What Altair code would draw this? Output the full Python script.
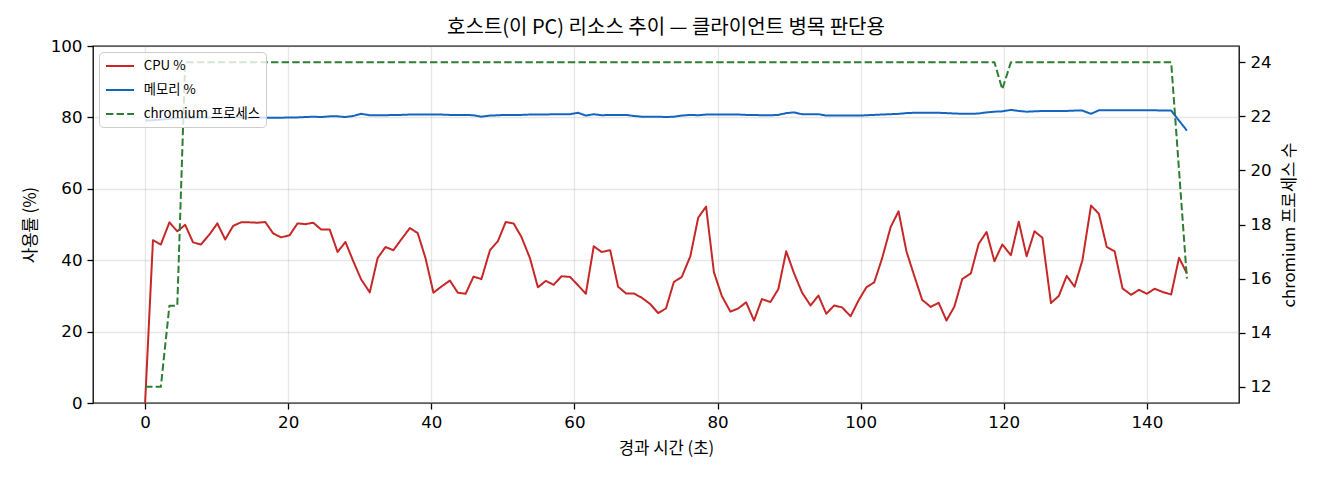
import pandas as pd
import altair as alt

# sample times (s)
time_s = [
    0.0, 1.1, 2.2, 3.4, 4.5, 5.6, 6.7, 7.8, 9.0, 10.1,
    11.2, 12.3, 13.4, 14.6, 15.7, 16.8, 17.9, 19.0, 20.2, 21.3,
    22.4, 23.5, 24.6, 25.8, 26.9, 28.0, 29.1, 30.2, 31.4, 32.5,
    33.6, 34.7, 35.8, 37.0, 38.1, 39.2, 40.3, 41.4, 42.6, 43.7,
    44.8, 45.9, 47.0, 48.2, 49.3, 50.4, 51.5, 52.6, 53.8, 54.9,
    56.0, 57.1, 58.2, 59.4, 60.5, 61.6, 62.7, 63.8, 65.0, 66.1,
    67.2, 68.3, 69.4, 70.6, 71.7, 72.8, 73.9, 75.0, 76.2, 77.3,
    78.4, 79.5, 80.6, 81.8, 82.9, 84.0, 85.1, 86.2, 87.4, 88.5,
    89.6, 90.7, 91.8, 93.0, 94.1, 95.2, 96.3, 97.4, 98.6, 99.7,
    100.8, 101.9, 103.0, 104.2, 105.3, 106.4, 107.5, 108.6, 109.8, 110.9,
    112.0, 113.1, 114.2, 115.4, 116.5, 117.6, 118.7, 119.8, 121.0, 122.1,
    123.2, 124.3, 125.4, 126.6, 127.7, 128.8, 129.9, 131.0, 132.2, 133.3,
    134.4, 135.5, 136.6, 137.8, 138.9, 140.0, 141.1, 142.2, 143.4, 144.5,
    145.6,
]

cpu_pct = [
    0.0, 45.6, 44.4, 50.6, 48.1, 49.9, 45.0, 44.4, 47.2, 50.3,
    45.8, 49.6, 50.6, 50.6, 50.5, 50.7, 47.5, 46.4, 47.0, 50.3,
    50.1, 50.5, 48.6, 48.6, 42.3, 45.1, 39.7, 34.6, 31.0, 40.6,
    43.7, 42.8, 45.8, 49.0, 47.6, 40.5, 30.9, 32.6, 34.3, 30.9,
    30.6, 35.4, 34.7, 42.8, 45.3, 50.7, 50.3, 46.5, 40.5, 32.4,
    34.2, 33.1, 35.5, 35.3, 33.0, 30.6, 43.9, 42.3, 42.8, 32.6,
    30.7, 30.7, 29.5, 27.7, 25.2, 26.5, 33.9, 35.3, 41.1, 51.9,
    55.0, 36.6, 30.0, 25.6, 26.5, 28.2, 23.1, 29.1, 28.3, 31.9,
    42.5, 36.3, 31.0, 27.3, 30.1, 25.0, 27.3, 26.8, 24.3, 28.7,
    32.4, 33.8, 40.5, 49.3, 53.7, 42.5, 35.6, 28.9, 26.9, 28.1,
    23.1, 27.0, 34.7, 36.3, 44.6, 47.9, 39.7, 44.4, 41.4, 50.8,
    41.1, 48.1, 46.3, 28.0, 30.0, 35.6, 32.6, 40.0, 55.3, 53.0,
    43.7, 42.5, 32.1, 30.3, 31.7, 30.6, 32.0, 31.1, 30.4, 40.7,
    36.3,
]

mem_pct = [
    79.1, 79.2, 79.4, 79.6, 79.8, 79.9, 79.9, 80.0, 79.9, 80.0,
    80.0, 80.1, 80.0, 79.9, 80.0, 79.9, 79.9, 79.9, 80.0, 80.0,
    80.1, 80.2, 80.1, 80.3, 80.3, 80.1, 80.4, 81.0, 80.6, 80.6,
    80.6, 80.7, 80.7, 80.8, 80.8, 80.8, 80.8, 80.8, 80.7, 80.7,
    80.7, 80.6, 80.2, 80.5, 80.6, 80.7, 80.7, 80.7, 80.8, 80.8,
    80.8, 80.9, 80.9, 80.9, 81.3, 80.5, 80.9, 80.6, 80.7, 80.7,
    80.7, 80.4, 80.2, 80.2, 80.2, 80.1, 80.2, 80.5, 80.7, 80.6,
    80.8, 80.8, 80.8, 80.8, 80.8, 80.7, 80.7, 80.6, 80.6, 80.7,
    81.2, 81.4, 80.9, 80.9, 80.9, 80.5, 80.5, 80.5, 80.5, 80.5,
    80.6, 80.7, 80.8, 80.9, 81.0, 81.2, 81.3, 81.3, 81.3, 81.3,
    81.2, 81.1, 81.0, 81.0, 81.1, 81.4, 81.6, 81.7, 82.1, 81.8,
    81.6, 81.7, 81.8, 81.8, 81.8, 81.8, 81.9, 81.9, 81.0, 82.0,
    82.0, 82.0, 82.0, 82.0, 82.0, 82.0, 82.0, 81.9, 81.9, 79.1,
    76.3,
]

chromium_n = [
    12, 12, 12, 15, 15, 24, 24, 24, 24, 24,
    24, 24, 24, 24, 24, 24, 24, 24, 24, 24,
    24, 24, 24, 24, 24, 24, 24, 24, 24, 24,
    24, 24, 24, 24, 24, 24, 24, 24, 24, 24,
    24, 24, 24, 24, 24, 24, 24, 24, 24, 24,
    24, 24, 24, 24, 24, 24, 24, 24, 24, 24,
    24, 24, 24, 24, 24, 24, 24, 24, 24, 24,
    24, 24, 24, 24, 24, 24, 24, 24, 24, 24,
    24, 24, 24, 24, 24, 24, 24, 24, 24, 24,
    24, 24, 24, 24, 24, 24, 24, 24, 24, 24,
    24, 24, 24, 24, 24, 24, 24, 23, 24, 24,
    24, 24, 24, 24, 24, 24, 24, 24, 24, 24,
    24, 24, 24, 24, 24, 24, 24, 24, 24, 20,
    16,
]

series_names = ["CPU %", "메모리 %", "chromium 프로세스"]
series_colors = ["#c62828", "#1565c0", "#2e7d32"]
series_dash = [[1, 0], [1, 0], [7.4, 3.2]]

x_ticks = [0, 20, 40, 60, 80, 100, 120, 140]
left_ticks = [0, 20, 40, 60, 80, 100]
right_ticks = [12, 14, 16, 18, 20, 22, 24]

KR = "Noto Sans CJK KR"
NUM = "DejaVu Sans"

n = len(time_s)
usage = pd.DataFrame({
    "t": time_s + time_s,
    "value": cpu_pct + mem_pct,
    "series": ["CPU %"] * n + ["메모리 %"] * n,
})
procs = pd.DataFrame({
    "t": time_s,
    "value": chromium_n,
    "series": ["chromium 프로세스"] * n,
})

x_enc = alt.X(
    "t:Q",
    title="경과 시간 (초)",
    scale=alt.Scale(domain=[-7.28, 152.88], nice=False, zero=False),
    axis=alt.Axis(values=x_ticks, grid=True, titlePadding=10),
)
color = alt.Color(
    "series:N",
    title=None,
    scale=alt.Scale(domain=series_names, range=series_colors),
)
dash = alt.StrokeDash(
    "series:N",
    title=None,
    scale=alt.Scale(domain=series_names, range=series_dash),
)

usage_lines = (
    alt.Chart(usage)
    .mark_line(strokeWidth=2, strokeJoin="round")
    .encode(
        x=x_enc,
        y=alt.Y(
            "value:Q",
            title="사용률 (%)",
            scale=alt.Scale(domain=[0, 100], nice=False),
            axis=alt.Axis(values=left_ticks, grid=True, titlePadding=11),
        ),
        color=color,
        strokeDash=dash,
    )
)

procs_line = (
    alt.Chart(procs)
    .mark_line(strokeWidth=2, strokeJoin="round")
    .encode(
        x=x_enc,
        y=alt.Y(
            "value:Q",
            title="chromium 프로세스 수",
            scale=alt.Scale(domain=[11.4, 24.6], nice=False, zero=False),
            axis=alt.Axis(
                orient="right", values=right_ticks, grid=False,
                titleAngle=270, titleBaseline="top", titlePadding=10
            ),
        ),
        color=color,
        strokeDash=dash,
    )
)

chart = (
    alt.layer(usage_lines, procs_line)
    .resolve_scale(y="independent")
    .properties(
        width=1146,
        height=357,
        autosize=alt.AutoSizeParams(type="none"),
        padding={"left": 85, "top": 38, "right": 73, "bottom": 69},
        title=alt.TitleParams(
            "호스트(이 PC) 리소스 추이 — 클라이언트 병목 판단용",
            font=KR, fontSize=20, fontWeight="normal", color="black",
            anchor="middle", frame="group", offset=0
        ),
    )
    .configure_view(stroke="black", strokeWidth=1.3)
    .configure_axis(
        domain=False,
        tickColor="black", tickWidth=1.3, tickSize=6,
        labelFont=NUM, labelFontSize=16.7, labelColor="black", labelPadding=5,
        titleFont=KR, titleFontSize=16.7, titleFontWeight="normal", titleColor="black",
        gridColor="#b0b0b0", gridOpacity=0.3, gridWidth=1.3,
    )
    .configure_legend(
        orient="top-left", offset=6, padding=6,
        fillColor="rgba(255,255,255,0.8)", strokeColor="#cccccc", cornerRadius=4,
        symbolType="M-2,0H2", symbolSize=196, symbolStrokeWidth=2,
        symbolOffset=7, labelOffset=15.7, rowPadding=9,
        labelFont=KR, labelFontSize=13.3, labelColor="black",
    )
)

chart.save("out.html", embed_options={"renderer": "svg", "actions": False})
